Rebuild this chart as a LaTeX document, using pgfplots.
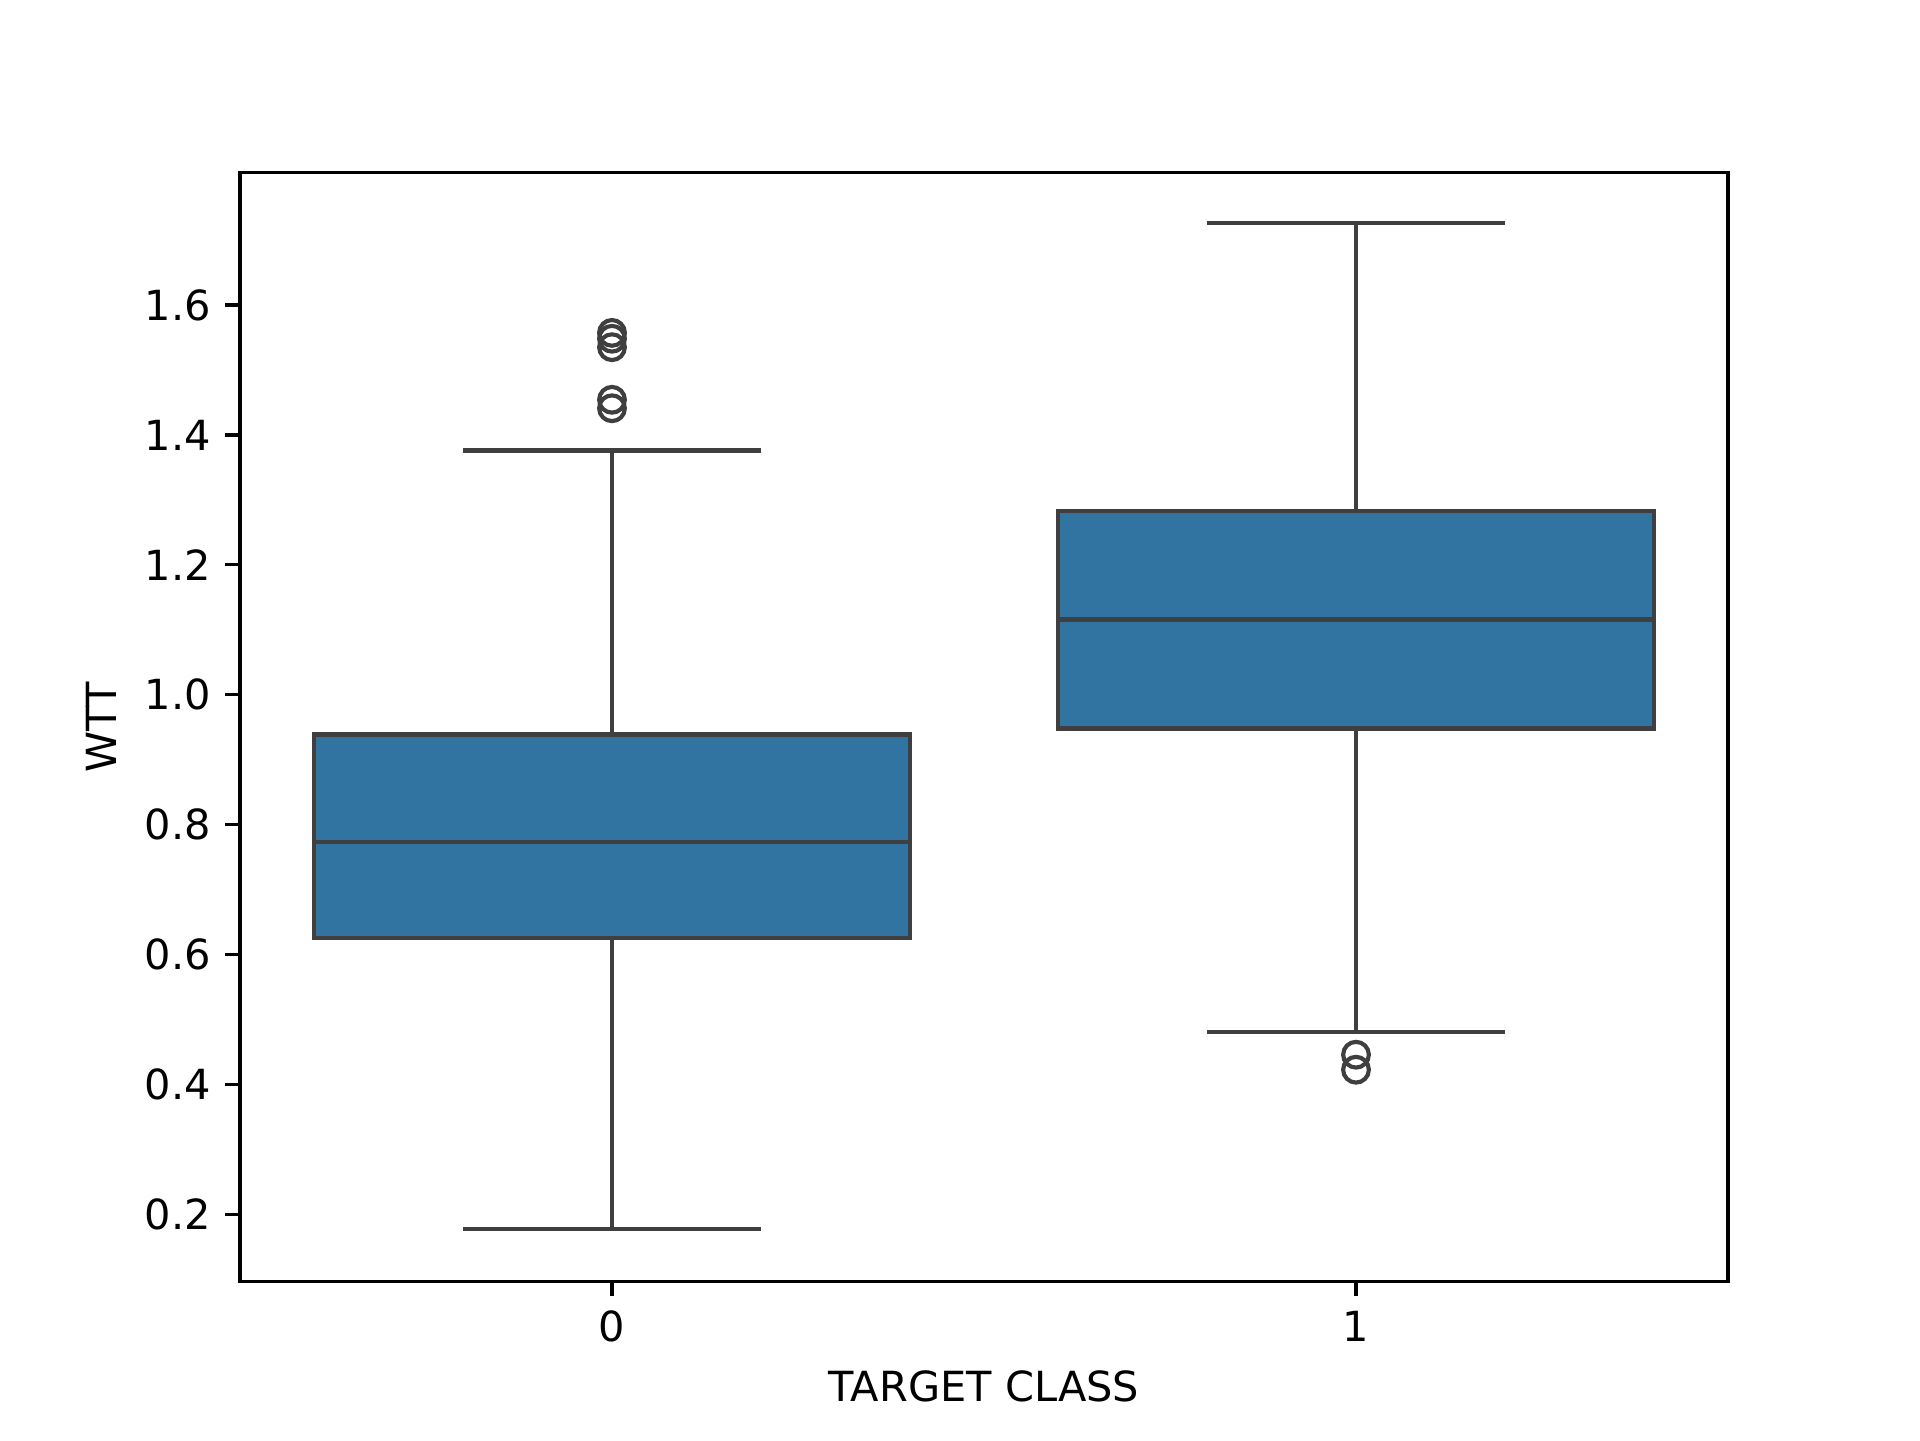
\documentclass[border=0pt]{standalone}
\usepackage{pgfplots}
\pgfplotsset{compat=1.18}
\usepgfplotslibrary{statistics}
\usepackage{fontspec}
\setmainfont{DejaVu Sans}
\definecolor{boxblue}{HTML}{3274A1}
\definecolor{edgegray}{HTML}{3F3F3F}
\begin{document}
\begin{tikzpicture}
\path (-0.8in,-0.528in) rectangle (5.6in,4.272in);
\begin{axis}[
  at={(0,0)}, anchor=south west,
  scale only axis, width=4.96in, height=3.696in,
  xmin=-0.5, xmax=1.5, ymin=0.0964, ymax=1.8035,
  xtick={0,1}, xticklabels={0,1},
  ytick={0.2,0.4,0.6,0.8,1.0,1.2,1.4,1.6},
  yticklabel style={/pgf/number format/.cd,fixed,fixed zerofill,precision=1},
  /pgf/number format/assume math mode=true,
  tick label style={font=\fontsize{10}{12}\selectfont},
  label style={font=\fontsize{10}{12}\selectfont},
  xlabel={TARGET CLASS}, ylabel={WTT},
  tick align=outside, tick style={black, line width=0.8pt}, major tick length=3.5pt,
  xtick pos=bottom, ytick pos=left,
  axis line style={line width=0.8pt},
  boxplot/draw direction=y,
  boxplot/box extend=0.8, boxplot/whisker extend=0.4,
]
\addplot+[boxplot prepared={draw position=0, lower whisker=0.1774, lower quartile=0.6258, median=0.7728, upper quartile=0.9386, upper whisker=1.376},
  fill=boxblue, draw=edgegray, line width=1pt, solid,
  mark=o, mark size=3.1pt, mark options={draw=edgegray, line width=1pt, fill=none}]
  table[row sep=\\, y index=0] {1.557\\ 1.548\\ 1.535\\ 1.454\\ 1.441\\};
\addplot+[boxplot prepared={draw position=1, lower whisker=0.4808, lower quartile=0.948, median=1.1157, upper quartile=1.2834, upper whisker=1.7262},
  fill=boxblue, draw=edgegray, line width=1pt, solid,
  mark=o, mark size=3.1pt, mark options={draw=edgegray, line width=1pt, fill=none}]
  table[row sep=\\, y index=0] {0.4457\\ 0.4226\\};
\end{axis}
\end{tikzpicture}
\end{document}
